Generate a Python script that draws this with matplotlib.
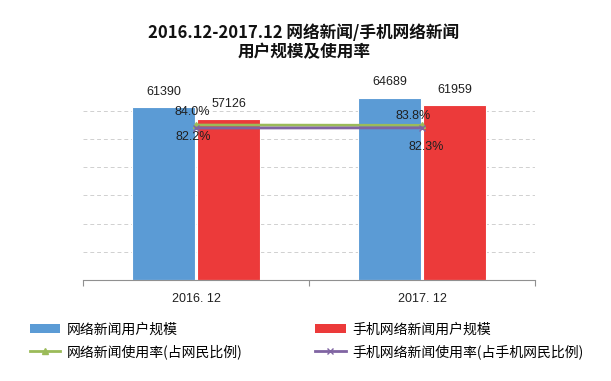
import matplotlib
matplotlib.use("Agg")
import matplotlib.pyplot as plt
import numpy as np
from matplotlib.lines import Line2D
from matplotlib.patches import Patch

plt.rcParams['font.family'] = ['Noto Sans CJK SC', 'DejaVu Sans']

categories = ["2016. 12", "2017. 12"]
news_users = [61390, 64689]
mobile_news_users = [57126, 61959]
news_rate = [84.0, 83.8]
mobile_news_rate = [82.2, 82.3]

title = "2016.12-2017.12 网络新闻/手机网络新闻\n用户规模及使用率"
legend_labels = ["网络新闻用户规模", "手机网络新闻用户规模",
                 "网络新闻使用率(占网民比例)", "手机网络新闻使用率(占手机网民比例)"]

c_blue = "#5B9BD5"
c_red = "#EC3A3A"
c_green = "#9BBB59"
c_purple = "#8064A2"
num_font = ["Liberation Sans", "DejaVu Sans"]

fig = plt.figure(figsize=(6.11, 3.81), dpi=100)

ax = fig.add_axes([83 / 611, 1 - 280 / 381, (535 - 83) / 611, (280 - 82.6) / 381])
ax.patch.set_alpha(0)
x = np.arange(len(categories))
w = 0.28
b1 = ax.bar(x - w / 2 - 0.004, news_users, w, color=c_blue, edgecolor="white", linewidth=0.8, zorder=2)
b2 = ax.bar(x + w / 2 + 0.004, mobile_news_users, w, color=c_red, edgecolor="white", linewidth=0.8, zorder=2)
ax.set_xlim(-0.5, 1.5)
ax.set_ylim(0, 70000)
for gy in range(10000, 70000, 10000):
    ax.axhline(gy, color="#d0d0d0", linestyle=(0, (4, 3)), linewidth=0.7, zorder=1)
for s in ["top", "right", "left"]:
    ax.spines[s].set_visible(False)
ax.spines["bottom"].set_color("#909090")
ax.set_yticks([])
ax.set_xticks([-0.5, 0.5, 1.5])
ax.set_xticklabels([])
ax.tick_params(axis="x", which="major", length=4, color="#909090", direction="out")
ax.set_xticks(x, minor=True)
ax.set_xticklabels(categories, minor=True, fontsize=9, family=num_font, color="#202020")
ax.tick_params(axis="x", which="minor", length=0, pad=9.5)

for rect, v in zip(list(b1) + list(b2), news_users + mobile_news_users):
    ax.annotate(f"{v}", (rect.get_x() + rect.get_width() / 2, v), xytext=(0, 11),
                textcoords="offset points", ha="center", va="center", fontsize=9,
                family=num_font, color="#202020")

ax2 = ax.twinx()
ax2.set_ylim(-8.8, 109.4)
ax2.axis("off")
ax2.plot(x, news_rate, color=c_green, linewidth=2, marker="^", markersize=5, zorder=4)
ax2.plot(x, mobile_news_rate, color=c_purple, linewidth=2, marker="x", markersize=5, zorder=4)

rate_offsets_g = [(-3, 9.5), (-6.5, 6.5)]
rate_offsets_p = [(-2, -6.5), (3, -13.5)]
for xi, v, off in zip(x, news_rate, rate_offsets_g):
    ax2.annotate(f"{v:.1f}%", (xi, v), xytext=off, textcoords="offset points",
                 ha="center", va="center", fontsize=9, family=num_font, color="#202020")
for xi, v, off in zip(x, mobile_news_rate, rate_offsets_p):
    ax2.annotate(f"{v:.1f}%", (xi, v), xytext=off, textcoords="offset points",
                 ha="center", va="center", fontsize=9, family=num_font, color="#202020")

fig.text(0.497, 1 - 43 / 381, title, ha="center", va="center", fontsize=12,
         fontweight="bold", linespacing=1.08, color="#111111")

handles = [Patch(facecolor=c_blue), Line2D([0], [0], color=c_green, lw=2, marker="^", markersize=5),
           Patch(facecolor=c_red), Line2D([0], [0], color=c_purple, lw=2, marker="x", markersize=5)]
labels = [legend_labels[0], legend_labels[2], legend_labels[1], legend_labels[3]]
leg = fig.legend(handles, labels, ncol=2, loc="upper left", bbox_to_anchor=(17 / 611, 1 - 310 / 381),
                 frameon=False, fontsize=10, handlelength=2.2, handleheight=0.6, handletextpad=0.5,
                 columnspacing=5.2, labelspacing=0.55)

fig.savefig("out.png", dpi=100)
